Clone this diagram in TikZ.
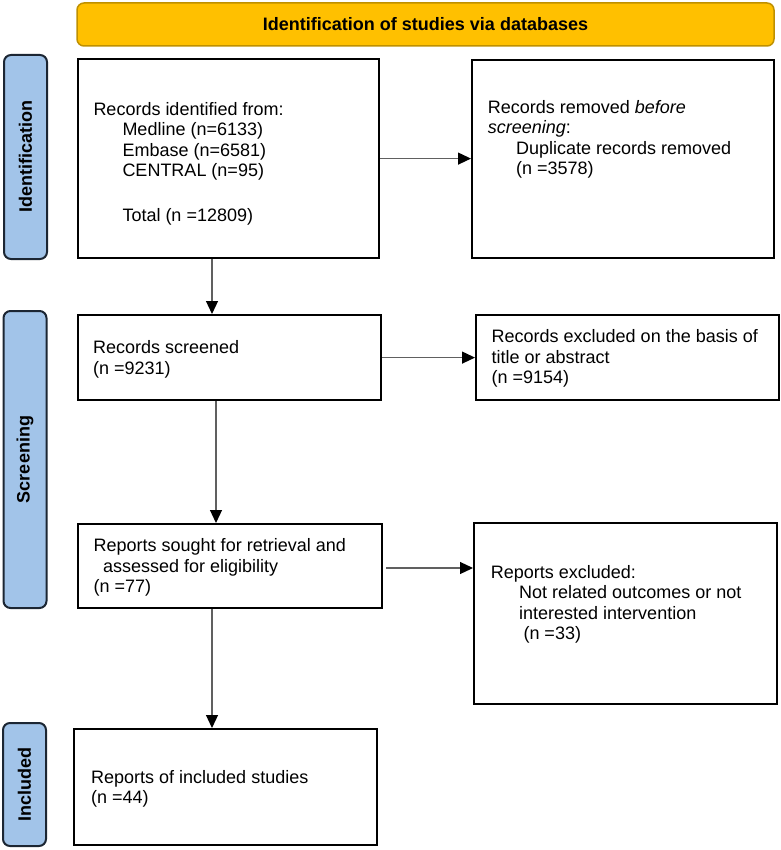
\documentclass[tikz,border=0pt]{standalone}
\usepackage{fontspec}
\setmainfont{Liberation Sans}
\usetikzlibrary{arrows.meta,calc}
\definecolor{bannerfill}{HTML}{FFC000}
\definecolor{bannerdraw}{HTML}{BF9000}
\definecolor{sidefill}{HTML}{A2C4E9}
\definecolor{sidedraw}{HTML}{1C2633}
\definecolor{arrgray}{HTML}{606060}
\begin{document}
\begin{tikzpicture}[x=1pt,y=-1pt,
  box/.style={draw=black, line width=2.2pt, fill=white, anchor=north west, inner sep=0pt},
  txt/.style={anchor=north west, inner sep=0pt, align=left, font=\fontsize{18}{20.5}\selectfont},
  side/.style={draw=sidedraw, fill=sidefill, line width=2pt, rounded corners=7pt, rotate=90, inner sep=0pt, font=\fontsize{18}{20}\selectfont\bfseries, minimum height=43pt},
  banner/.style={draw=bannerdraw, fill=bannerfill, line width=1.5pt, rounded corners=7pt, inner sep=0pt, font=\fontsize{18}{20}\selectfont\bfseries},
  arr/.style={draw=arrgray, line width=1.2pt, -{Triangle[length=13pt,width=12pt,color=black,fill=black]}}
]
\useasboundingbox (0,0) rectangle (780,850);

% banner
\node[banner, minimum width=697pt, minimum height=43pt] (ban) at (425.5,24.5) {Identification of studies via databases};

% side labels
\node[side, minimum width=204pt] (s1) at (25.5,157) {Identification};
\node[side, minimum width=297pt] (s2) at (25,459.5) {Screening};
\node[side, minimum width=123pt] (s3) at (24.5,784.5) {Included};

% boxes
\node[box, minimum width=301pt, minimum height=199pt] (b1) at (77,58) {};
\node[box, minimum width=302pt, minimum height=198pt] (b2) at (471,59) {};
\node[box, minimum width=303pt, minimum height=85pt] (b3) at (77,314) {};
\node[box, minimum width=303pt, minimum height=85pt] (b4) at (475,314) {};
\node[box, minimum width=304pt, minimum height=84pt] (b5) at (77,523) {};
\node[box, minimum width=303pt, minimum height=181pt] (b6) at (473,522) {};
\node[box, minimum width=303pt, minimum height=116pt] (b7) at (73,728) {};

% texts
\node[txt] (t1) at (93.3,102) {Records identified from:\\
\hspace*{29pt}Medline (n=6133)\\
\hspace*{29pt}Embase (n=6581)\\
\hspace*{29pt}CENTRAL (n=95)\\[24.5pt]
\hspace*{29pt}Total (n =12809)};
\node[txt] (t2) at (487.7,100) {Records removed \textit{before}\\
\textit{screening}:\\
\hspace*{28.3pt}Duplicate records removed\\
\hspace*{28.3pt}(n =3578)};
\node[txt] (t3) at (93,340.5) {Records screened\\(n =9231)};
\node[txt] (t4) at (491.5,329.3) {Records excluded on the basis of\\title or abstract\\(n =9154)};
\node[txt] (t5) at (93.5,538.3) {Reports sought for retrieval and\\
\hspace*{9.5pt}assessed for eligibility\\(n =77)};
\node[txt] (t6) at (490.7,565) {Reports excluded:\\
\hspace*{28.3pt}Not related outcomes or not\\
\hspace*{28.3pt}interested intervention\\
\hspace*{32.6pt}(n =33)};
\node[txt] (t7) at (91,770) {Reports of included studies\\(n =44)};

% connectors
\coordinate (x1) at (212,0);
\coordinate (x2) at (216,0);
\coordinate (y5) at (0,568);
\draw[arr] (b1.east) -- (b1.east -| b2.west);
\draw[arr] (b1.south -| x1) -- (b3.north -| x1);
\draw[arr] (b3.east) -- (b3.east -| b4.west);
\draw[arr] (b3.south -| x2) -- (b5.north -| x2);
\draw[arr] ($(b5.east |- y5)+(3,0)$) -- (b6.west |- y5);
\draw[arr] (b5.south -| x1) -- (b7.north -| x1);
\end{tikzpicture}
\end{document}
